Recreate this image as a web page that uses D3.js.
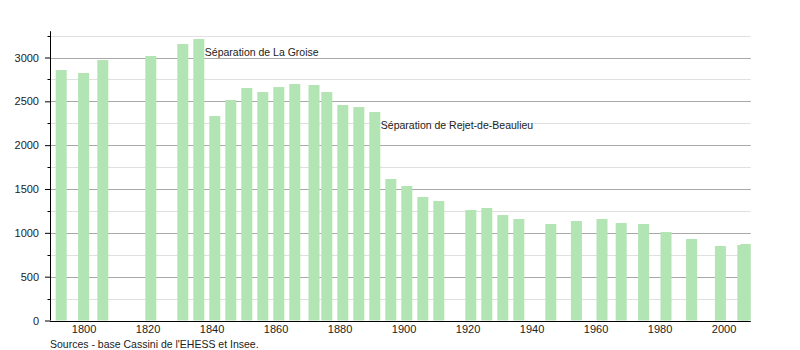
<!DOCTYPE html>
<html>
<head>
<meta charset="utf-8">
<script src="https://cdn.jsdelivr.net/npm/d3@7"></script>
<style>
  body { margin: 0; background: #fff; }
  svg { display: block; font-family: "Liberation Sans", Arial, sans-serif; }
</style>
</head>
<body>
<svg id="chart" width="800" height="350"></svg>
<script>
const years = [1793, 1800, 1806, 1821, 1831, 1836, 1841, 1846, 1851, 1856, 1861, 1866, 1872, 1876, 1881, 1886, 1891, 1896, 1901, 1906, 1911, 1921, 1926, 1931, 1936, 1946, 1954, 1962, 1968, 1975, 1982, 1990, 1999, 2006, 2007];
const population = [2857, 2823, 2971, 3017, 3154, 3211, 2333, 2515, 2652, 2606, 2663, 2698, 2686, 2606, 2458, 2435, 2378, 1614, 1534, 1409, 1363, 1260, 1283, 1203, 1158, 1101, 1135, 1158, 1112, 1101, 1009, 930, 850, 861, 873];
const xTicks = [1800, 1820, 1840, 1860, 1880, 1900, 1920, 1940, 1960, 1980, 2000];
const yMajorTicks = [0, 500, 1000, 1500, 2000, 2500, 3000];
const yMinorTicks = [250, 750, 1250, 1750, 2250, 2750, 3250];
const annotationYears = [1836, 1891];
const annotationTexts = ["Séparation de La Groise", "Séparation de Rejet-de-Beaulieu"];
const sourceText = "Sources - base Cassini de l'EHESS et Insee.";

const svg = d3.select("#chart");
const x = d3.scaleLinear().domain([1789.5, 2008.5]).range([50, 750.8]);
const y = d3.scaleLinear().domain([0, 3300]).range([320.5, 31.2]);
const barW = 11;
const left = 50, right = 750.8;

// gridlines
svg.append("g").selectAll("line").data(yMinorTicks).join("line")
  .attr("x1", left).attr("x2", right)
  .attr("y1", d => Math.round(y(d)) + 0.5).attr("y2", d => Math.round(y(d)) + 0.5)
  .attr("stroke", "#e0e0e0").attr("stroke-width", 1);
svg.append("g").selectAll("line").data(yMajorTicks.filter(d => d > 0)).join("line")
  .attr("x1", left).attr("x2", right)
  .attr("y1", d => Math.round(y(d)) + 0.5).attr("y2", d => Math.round(y(d)) + 0.5)
  .attr("stroke", "#a8a8a8").attr("stroke-width", 1);

// bars
const data = years.map((yr, i) => ({ year: yr, value: population[i] }));
svg.append("g").selectAll("rect").data(data).join("rect")
  .attr("x", d => x(d.year) - barW / 2)
  .attr("width", d => Math.min(barW, right - (x(d.year) - barW / 2)))
  .attr("y", d => y(d.value))
  .attr("height", d => y(0) - y(d.value))
  .attr("fill", "#b3e4b3");

// y axis
const yAxisG = svg.append("g").attr("transform", `translate(${left},0)`);
yAxisG.call(d3.axisLeft(y).tickValues(yMajorTicks).tickSize(5).tickPadding(6).tickFormat(d3.format("d")));
yAxisG.append("g").selectAll("line").data(yMinorTicks).join("line")
  .attr("x1", -2.5).attr("x2", 0)
  .attr("y1", d => Math.round(y(d)) + 0.5).attr("y2", d => Math.round(y(d)) + 0.5)
  .attr("stroke", "#000");
yAxisG.select(".domain").attr("d", `M0.5,${y(3300)}V${y(0)}`).attr("stroke", "#000");
yAxisG.selectAll(".tick line").attr("stroke", "#000");
yAxisG.selectAll(".tick text").attr("font-size", 11).attr("fill", "#222").attr("font-family", "Liberation Sans, Arial, sans-serif");

// x axis
const xAxisG = svg.append("g").attr("transform", `translate(0,${Math.round(y(0)) + 0.5})`);
xAxisG.call(d3.axisBottom(x).tickValues(xTicks).tickSize(0).tickPadding(4).tickFormat(d3.format("d")));
xAxisG.select(".domain").attr("d", `M${left},0H${right}`).attr("stroke", "#000").attr("stroke-width", 1.2);
xAxisG.selectAll(".tick text").attr("font-size", 11).attr("fill", "#222").attr("font-family", "Liberation Sans, Arial, sans-serif");

// annotations
annotationYears.forEach((yr, i) => {
  const v = population[years.indexOf(yr)];
  svg.append("text")
    .attr("x", x(yr) + barW / 2 + 0.5)
    .attr("y", y(v) + 16.5)
    .attr("font-size", 10.5)
    .attr("fill", "#222")
    .text(annotationTexts[i]);
});

// source
svg.append("text")
  .attr("x", 50).attr("y", 347.5)
  .attr("font-size", 10.5)
  .attr("fill", "#222")
  .text(sourceText);
</script>
</body>
</html>
